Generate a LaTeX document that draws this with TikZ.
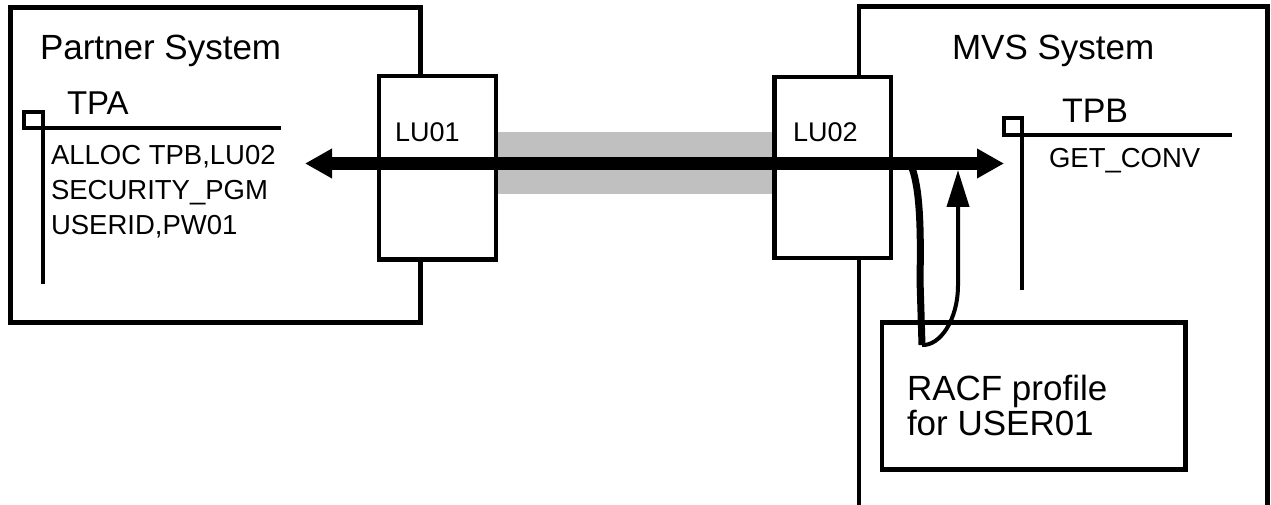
\documentclass[tikz,border=0pt]{standalone}
\usepackage{fontspec}
\setmainfont{Liberation Sans}
\usetikzlibrary{arrows.meta}
\definecolor{bandgray}{HTML}{C0C0C0}
\begin{document}
\begin{tikzpicture}[x=1pt,y=-1pt,
  box/.style={draw, line width=4.5pt, inner sep=0pt, outer sep=0pt, anchor=north west},
  lbl/.style={anchor=base west, inner sep=0pt, outer sep=0pt, font=\fontsize{#1pt}{#1pt}\selectfont},
  tpline/.style={line width=4pt},
  bigarrow/.style={line width=13pt, {Triangle[length=27pt,width=28pt]}-{Triangle[length=27pt,width=28pt]}},
]
\useasboundingbox (0,0) rectangle (1271,505);

% Partner system box
\node[box, minimum width=410pt, minimum height=315pt] (partner) at (10.5,7.5) {};
% MVS system box (open at the bottom)
\coordinate (mvsbl) at (859,506);
\coordinate (mvstl) at (859,6.5);
\coordinate (mvstr) at (1267.5,6.5);
\coordinate (mvsbr) at (1267.5,506);
\draw[line width=4.5pt] (mvsbl) -- (mvstl) -- (mvstr) -- (mvsbr);

% grey link band
\node[fill=bandgray, inner sep=0pt, outer sep=0pt, anchor=north west,
      minimum width=276pt, minimum height=62pt] (band) at (496,132) {};

% LU boxes
\node[box, fill=white, minimum width=117pt, minimum height=183.5pt] (lu1) at (379,76) {};
\node[box, fill=white, minimum width=116.5pt, minimum height=181pt] (lu2) at (774.5,77) {};

% titles
\node[lbl=35] (ptitle) at (40,60) {Partner System};
\node[lbl=35] (mtitle) at (952,60) {MVS System};
\node[lbl=27] (lu1t) at (395,142) {LU01};
\node[lbl=27] (lu2t) at (793,142) {LU02};

% TPA
\node[draw, tpline, inner sep=0pt, outer sep=0pt, minimum width=19pt, minimum height=16pt, anchor=north west] (tpasq) at (24,112) {};
\coordinate (tpah) at (281,128);
\coordinate (tpav) at (43,284);
\draw[tpline] (tpasq.south east) -- (tpah);
\draw[tpline] (tpasq.south east) -- (tpav);
\node[lbl=33] (tpat) at (67,115) {TPA};
\node[lbl=27.5] (al1) at (51,165) {ALLOC TPB,LU02};
\node[lbl=27.5] (al2) at (51,200) {SECURITY\_PGM};
\node[lbl=27.5] (al3) at (51,234) {USERID,PW01};

% TPB
\node[draw, tpline, inner sep=0pt, outer sep=0pt, minimum width=18pt, minimum height=17pt, anchor=north west] (tpbsq) at (1004,118) {};
\coordinate (tpbh) at (1232,135);
\coordinate (tpbv) at (1022,290);
\draw[tpline] (tpbsq.south east) -- (tpbh);
\draw[tpline] (tpbsq.south east) -- (tpbv);
\node[lbl=34] (tpbt) at (1062,123) {TPB};
\node[lbl=27.5] (getc) at (1049,168) {GET\_CONV};

% main conversation arrow
\coordinate (aleft) at (305,163.5);
\coordinate (aright) at (1004,163.5);
\draw[bigarrow] (aleft) -- (aright);

% RACF box
\node[box, minimum width=303.5pt, minimum height=147pt] (racf) at (882,322.5) {};
\node[lbl=35] (r1) at (907,400) {RACF profile};
\node[lbl=35] (r2) at (907,435) {for USER01};

% security check loop
\coordinate (c1) at (912,168);
\coordinate (c2) at (922,345);
\coordinate (c3) at (958,170);
\draw[line width=7pt] (c1) .. controls (920,190) and (921,230) .. (920,280) -- (c2);
\draw[line width=4pt, -{Triangle[length=37pt,width=22pt]}] (c2) .. controls (940,346) and (958,320) .. (958,285) -- (c3);
\end{tikzpicture}
\end{document}
